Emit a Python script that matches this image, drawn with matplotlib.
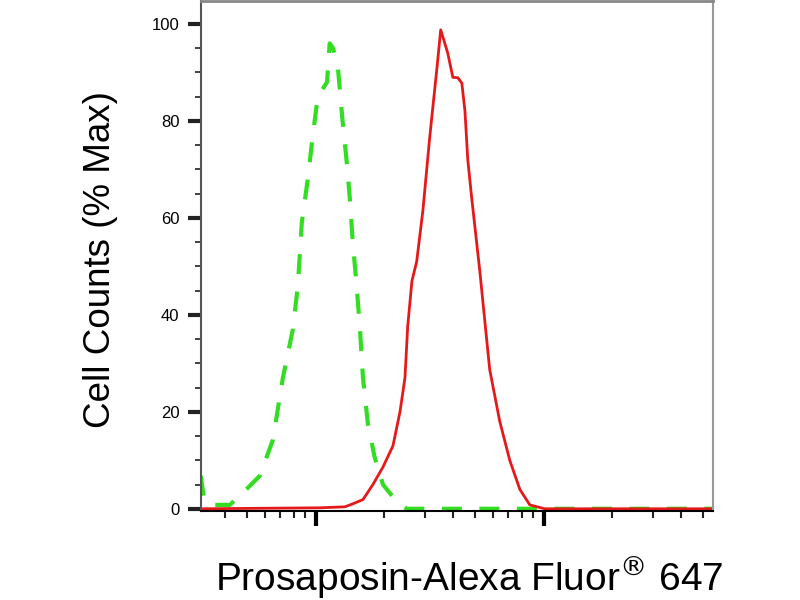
import matplotlib.pyplot as plt
from matplotlib.ticker import LogLocator, MultipleLocator, NullFormatter

plt.rcParams['font.family'] = ['Liberation Sans', 'DejaVu Sans']

# isotype control (green dashed)
ctrl_x = [3.13, 3.19, 3.26, 3.43, 4.20, 5.03, 5.68, 6.48, 7.17, 7.93, 8.34, 8.68,
          9.22, 9.70, 10.2, 11.2, 11.5, 11.9, 12.5, 13.1, 13.7, 14.1, 14.5, 15.1,
          15.6, 16.1, 16.9, 18.1, 19.7, 22.7, 25.1, 38.7, 551]
ctrl_y = [6.8, 4.0, 1.5, 0.8, 0.8, 4.3, 6.8, 14.2, 27, 37, 46, 59,
          68, 77, 85, 88, 96, 95, 91, 80, 71, 64, 55.5, 46,
          37.5, 27, 17.7, 10.7, 5, 1.4, 0, 0, 0]

# Prosaposin stained (red solid)
stain_x = [3.13, 10.4, 13.4, 14.5, 16.1, 17.8, 19.7, 21.8, 23.4, 24.6, 25.3, 26.4,
           27.7, 29.5, 31.6, 34.0, 35.3, 37.9, 39.9, 42.0, 43.7, 45.1, 46.4, 48.3,
           52.4, 57.9, 64.1, 70.9, 78.5, 86.8, 101, 551]
stain_y = [0, 0.2, 0.4, 1, 1.9, 5, 8.6, 13, 20, 27, 37.7, 47,
           51, 61.6, 76.7, 91, 98.8, 94, 89, 88.9, 87.8, 82, 72, 64,
           49, 28.7, 18, 10, 4, 0.8, 0, 0]

fig = plt.figure(figsize=(8, 6), dpi=100)
ax = fig.add_axes([0.251, 0.148, 0.640, 0.850])

ax.plot(ctrl_x, ctrl_y, color='#33dd22', lw=3, dashes=(4.8, 4.2))
ax.plot(stain_x, stain_y, color='#e41a1a', lw=2)

ax.set_xscale('log')
ax.set_xlim(3.13, 551)
ax.set_ylim(-0.5, 104.7)

ax.xaxis.set_major_locator(LogLocator(base=10))
ax.xaxis.set_minor_locator(LogLocator(base=10, subs=range(2, 10)))
ax.xaxis.set_major_formatter(NullFormatter())
ax.xaxis.set_minor_formatter(NullFormatter())
ax.yaxis.set_major_locator(MultipleLocator(20))
ax.yaxis.set_minor_locator(MultipleLocator(5))

ax.tick_params(axis='x', which='major', length=11, width=3, color='black')
ax.tick_params(axis='x', which='minor', length=5, width=1.5, color='#222222')
ax.tick_params(axis='y', which='major', length=9.5, width=3, color='#222222',
               labelsize=12, pad=6)
ax.tick_params(axis='y', which='minor', length=4.5, width=1.3, color='#333333')

ax.spines['bottom'].set_color('black')
ax.spines['bottom'].set_linewidth(1.5)
ax.spines['left'].set_color('#555555')
ax.spines['left'].set_linewidth(1.5)
ax.spines['top'].set_color('#888888')
ax.spines['top'].set_linewidth(2)
ax.spines['right'].set_color('#999999')
ax.spines['right'].set_linewidth(1.5)

fig.text(0.126, 0.567, 'Cell Counts (% Max)', rotation=90, fontsize=26.5,
         ha='center', va='center')
fig.text(0.587, 0.037, r'Prosaposin-Alexa Fluor$^{\circledR}$ 647', fontsize=28,
         ha='center', va='center')

fig.savefig('out.png', dpi=100)
